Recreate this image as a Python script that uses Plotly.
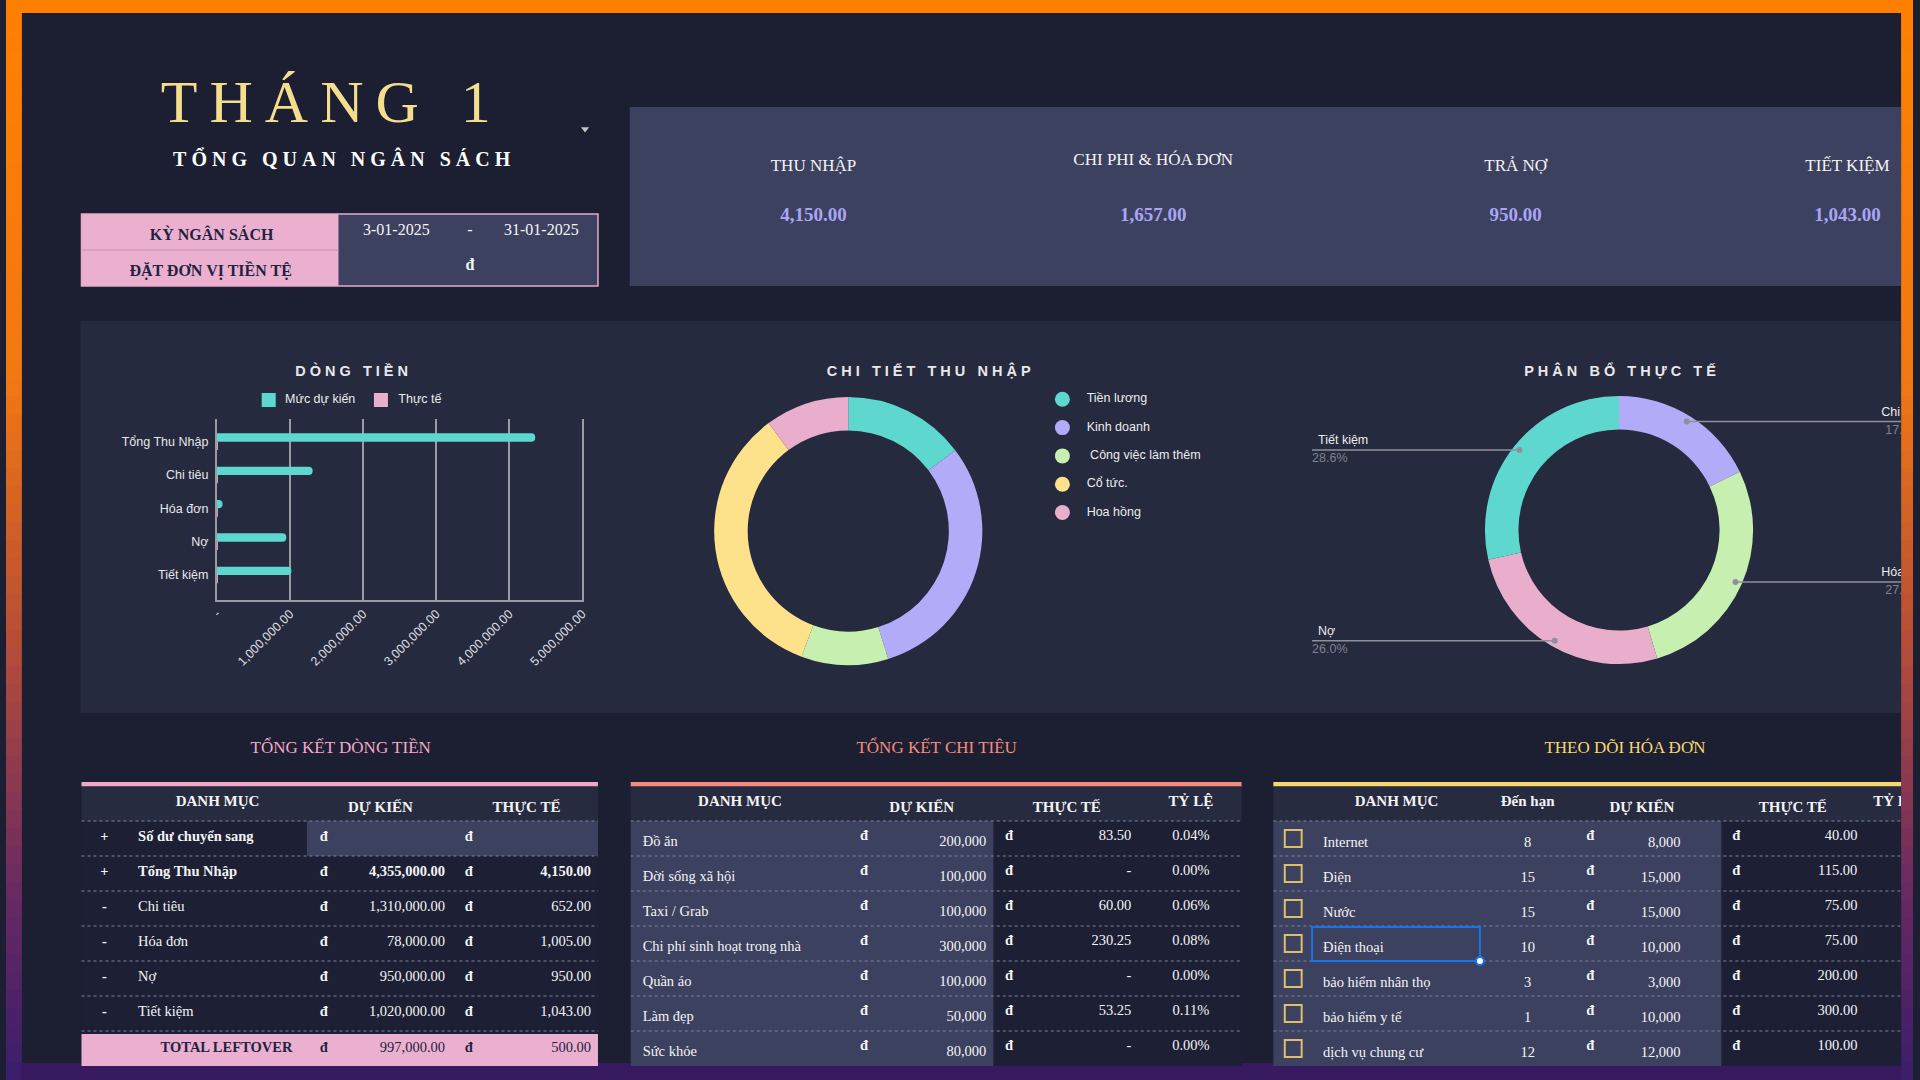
import math
import plotly.graph_objects as go

# ---------------- data ----------------
page_title = "THÁNG 1"
page_subtitle = "TỔNG QUAN NGÂN SÁCH"
period_label = "KỲ NGÂN SÁCH"
currency_label = "ĐẶT ĐƠN VỊ TIỀN TỆ"
period_start = "3-01-2025"
period_end = "31-01-2025"
currency_symbol = "đ"

kpi_labels = ["THU NHẬP", "CHI PHI & HÓA ĐƠN", "TRẢ NỢ", "TIẾT KIỆM"]

flow_categories = ["Tổng Thu Nhập", "Chi tiêu", "Hóa đơn", "Nợ", "Tiết kiệm"]
flow_signs = ["+", "-", "-", "-", "-"]
flow_planned = [4355000.00, 1310000.00, 78000.00, 950000.00, 1020000.00]
flow_actual = [4150.00, 652.00, 1005.00, 950.00, 1043.00]
carry_label = "Số dư chuyển sang"
total_label = "TOTAL LEFTOVER"
flow_series_names = ["Mức dự kiến", "Thực tế"]
flow_tick_values = [0, 1000000, 2000000, 3000000, 4000000, 5000000]
flow_tick_labels = ["-", "1,000,000.00", "2,000,000.00", "3,000,000.00", "4,000,000.00", "5,000,000.00"]

income_sources = ["Tiền lương", "Kinh doanh", " Công việc làm thêm", "Cổ tức.", "Hoa hồng"]
income_amounts = [610, 1265, 435, 1420, 420]

alloc_labels = ["Chi tiêu", "Hóa đơn", "Nợ", "Tiết kiệm"]
alloc_values = [652.00, 1005.00, 950.00, 1043.00]

expense_names = ["Đồ ăn", "Đời sống xã hội", "Taxi / Grab", "Chi phí sinh hoạt trong nhà",
                 "Quần áo", "Làm đẹp", "Sức khỏe"]
expense_planned = [200000, 100000, 100000, 300000, 100000, 50000, 80000]
expense_actual = [83.50, 0, 60.00, 230.25, 0, 53.25, 0]

bill_names = ["Internet", "Điện", "Nước", "Điện thoại", "bảo hiểm nhân thọ", "bảo hiểm y tế",
              "dịch vụ chung cư"]
bill_due = [8, 15, 15, 10, 3, 1, 12]
bill_planned = [8000, 15000, 15000, 10000, 3000, 10000, 12000]
bill_actual = [40.00, 115.00, 75.00, 75.00, 200.00, 300.00, 100.00]

chart_titles = ["DÒNG TIỀN", "CHI TIẾT THU NHẬP", "PHÂN BỔ THỰC TẾ"]
section_titles = ["TỔNG KẾT DÒNG TIỀN", "TỔNG KẾT CHI TIÊU", "THEO DÕI HÓA ĐƠN"]
t1_headers = ["DANH MỤC", "DỰ KIẾN", "THỰC TẾ"]
t2_headers = ["DANH MỤC", "DỰ KIẾN", "THỰC TẾ", "TỶ LỆ"]
t3_headers = ["DANH MỤC", "Đến hạn", "DỰ KIẾN", "THỰC TẾ", "TỶ LỆ"]

# ---------------- style ----------------
FW, FH = 1920, 1080
SERIF = "Liberation Serif, DejaVu Serif, serif"
SANS = "Liberation Sans, Arial, DejaVu Sans, sans-serif"
BG = "#1c1f32"
PANEL = "#252a3e"
LIGHT = "#3d4160"
HEAD = "#272b40"
ROWDARK = "#1d2034"
PINKBOX = "#ebb0cf"
NAVY = "#1f2340"
WHITE = "#f4f4f4"
TEAL = "#5ed8ce"
LAV = "#b2abf7"
GREEN = "#c6efb0"
YELLOW = "#fde28b"
PINK = "#eaaecd"
GRID = "#9a9ba4"
NB = "\u00a0"


def spaced(s, sep=NB, wsep=NB * 3):
    return wsep.join(sep.join(list(w)) for w in s.split(" "))


shapes = []


def prect(x0, y0, x1, y1, fill, line_color=None, lw=0, layer="below"):
    shapes.append(dict(type="rect", xref="paper", yref="paper",
                       x0=x0 / FW, x1=x1 / FW, y0=1 - y1 / FH, y1=1 - y0 / FH,
                       fillcolor=fill, line=dict(color=line_color or "rgba(0,0,0,0)", width=lw),
                       layer=layer))


def arect(x0, y0, x1, y1, fill="rgba(0,0,0,0)", line_color=None, lw=0, typ="rect"):
    shapes.append(dict(type=typ, xref="x2", yref="y2", x0=x0, x1=x1, y0=y0, y1=y1,
                       fillcolor=fill, line=dict(color=line_color or "rgba(0,0,0,0)", width=lw),
                       layer="above"))


def aline(x0, y0, x1, y1, color, width=1, dash="solid"):
    shapes.append(dict(type="line", xref="x2", yref="y2", x0=x0, y0=y0, x1=x1, y1=y1,
                       line=dict(color=color, width=width, dash=dash), layer="above"))


def hexrgb(h):
    h = h.lstrip("#")
    return [int(h[i:i + 2], 16) for i in (0, 2, 4)]


def grad(t, stops):
    for (t0, c0), (t1, c1) in zip(stops[:-1], stops[1:]):
        if t0 <= t <= t1:
            f = (t - t0) / (t1 - t0) if t1 > t0 else 0
            a, b = hexrgb(c0), hexrgb(c1)
            return "rgb(%d,%d,%d)" % tuple(round(a[i] + (b[i] - a[i]) * f) for i in range(3))
    return stops[-1][1]


fig = go.Figure()


def T(xs, ys, texts, size, color=WHITE, family=SERIF, pos="middle center", bold=False):
    if not isinstance(xs, (list, tuple)):
        xs, ys, texts = [xs], [ys], [texts]
    texts = [("<b>%s</b>" % t) if bold else t for t in texts]
    fig.add_trace(go.Scatter(x=list(xs), y=list(ys), text=texts, mode="text",
                             textposition=pos,
                             textfont=dict(family=family, size=size, color=color),
                             xaxis="x2", yaxis="y2", hoverinfo="skip", showlegend=False,
                             cliponaxis=True))


# ---------------- frame and panels ----------------
stops = [(0, "#ff8000"), (0.35, "#f27812"), (0.6, "#b44c38"), (0.82, "#6a2a62"), (1, "#3b1d6b")]
N = 60
for i in range(N):
    y0 = FH * i / N
    y1 = FH * (i + 1) / N + 1
    c = grad((i + 0.5) / N, stops)
    prect(0, y0, 16, y1, c)
    prect(1908, y0, FW, y1, c)
prect(0, 0, FW, 13, "#ff8000")
prect(16, 1063, 1908, FH, "#37195f")

prect(628, 107, 1908, 286, LIGHT)          # KPI panel
prect(75, 321, 1908, 713, PANEL)           # chart panel

# info box
prect(76, 214, 335, 286, PINKBOX)
prect(335, 214, 596, 286, LIGHT)
prect(76, 249.5, 335, 250.5, "#c48fae")
prect(76, 214, 596, 286, "rgba(0,0,0,0)", "#e7a9c9", 1.5)

# tables geometry
ROW0, RH, NROWS = 821, 35, 7
TABLES = [(76, 596, "#f2a7c6"), (629, 1244, "#f48b7c"), (1276, 1908, "#f6d770")]
for (x0, x1, col) in TABLES:
    prect(x0, 782, x1, 786.5, col)
    prect(x0, 786.5, x1, ROW0, HEAD)
    prect(x0, ROW0, x1, ROW0 + RH * NROWS, ROWDARK)
# table 1 carry-over value cells
prect(303, ROW0, 596, ROW0 + RH, LIGHT)
# table 1 total row
prect(76, ROW0 + RH * 6 + 3, 596, ROW0 + RH * 7, PINKBOX)
# table 2 / 3 light columns
prect(629, ROW0, 994, ROW0 + RH * NROWS, LIGHT)
prect(1276, ROW0, 1727, ROW0 + RH * NROWS, LIGHT)

for (x0, x1, col) in TABLES:
    for r in range(NROWS):
        aline(x0, ROW0 + RH * r, x1, ROW0 + RH * r, "#80839a", 1, "dot")

# ---------------- header block ----------------
T(322, 107, "\u2009".join(list("THÁNG")) + NB * 2 + "\u2009" + "1", 60, "#f4de8e")
T(338, 161, spaced(page_subtitle), 20, "#ffffff", bold=True)
fig.add_trace(go.Scatter(x=[583], y=[129], mode="markers", xaxis="x2", yaxis="y2",
                         marker=dict(symbol="triangle-down", size=7, color="#c4c4c8"),
                         hoverinfo="skip", showlegend=False))
T(207, 236, period_label, 16, NAVY, bold=True)
T(206, 272, currency_label, 16, NAVY, bold=True)
T(393, 231, period_start, 16, WHITE)
T(467, 231, "-", 16, WHITE)
T(539, 231, period_end, 16, WHITE)
T(467, 266, currency_symbol, 16, WHITE, bold=True)

# KPIs
kpi_values = [flow_actual[0], flow_actual[1] + flow_actual[2], flow_actual[3], flow_actual[4]]
kpi_x = [813, 1155, 1520, 1854]
kpi_label_y = [166.5, 160.5, 166.5, 166.5]
for lab, val, x, ly in zip(kpi_labels, kpi_values, kpi_x, kpi_label_y):
    T(x, ly, lab, 17, WHITE)
    T(x, 216, "{:,.2f}".format(val), 19, "#a9a5f4", bold=True)

# ---------------- bar chart ----------------
for name, vals, col in zip(flow_series_names, [flow_planned, flow_actual], [TEAL, PINK]):
    fig.add_trace(go.Bar(y=flow_categories, x=vals, orientation="h", name=name,
                         marker=dict(color=col, line=dict(width=0)),
                         xaxis="x", yaxis="y", showlegend=False, hoverinfo="x+y"))

T(348, 372, spaced(chart_titles[0], NB, NB * 3), 14.5, "#e8e8ea", SANS, bold=True)
fig.add_trace(go.Scatter(x=[264.5, 377.5], y=[400, 400], mode="markers", xaxis="x2", yaxis="y2",
                         marker=dict(symbol="square", size=14, color=[TEAL, PINK]),
                         hoverinfo="skip", showlegend=False))
T([281, 395], [400, 400], flow_series_names, 12.5, "#ececec", SANS, "middle right")

# ---------------- donut 1 ----------------
P1 = (848, 531, 135)
fig.add_trace(go.Pie(values=income_amounts, labels=income_sources, hole=0.75, sort=False,
                     direction="clockwise", rotation=0, textinfo="none",
                     marker=dict(colors=[TEAL, LAV, GREEN, YELLOW, PINK], line=dict(width=0)),
                     showlegend=False, hoverinfo="label+percent",
                     domain=dict(x=[(P1[0] - P1[2]) / FW, (P1[0] + P1[2]) / FW],
                                 y=[1 - (P1[1] + P1[2]) / FH, 1 - (P1[1] - P1[2]) / FH])))
T(929, 372, spaced(chart_titles[1], NB, NB * 3), 14.5, "#e8e8ea", SANS, bold=True)
leg_y = [399.3 + 28.3 * i for i in range(len(income_sources))]
fig.add_trace(go.Scatter(x=[1063.6] * len(income_sources), y=leg_y, mode="markers",
                         xaxis="x2", yaxis="y2",
                         marker=dict(symbol="circle", size=15,
                                     color=[TEAL, LAV, GREEN, YELLOW, PINK]),
                         hoverinfo="skip", showlegend=False))
T([1088] * len(income_sources), leg_y, [s.replace(" ", NB, 1) if s.startswith(" ") else s
                                        for s in income_sources],
  12.5, "#ececec", SANS, "middle right")

# ---------------- donut 2 ----------------
P2 = (1624, 530, 135)
fig.add_trace(go.Pie(values=alloc_values, labels=alloc_labels, hole=0.75, sort=False,
                     direction="clockwise", rotation=0, textinfo="none",
                     marker=dict(colors=[LAV, GREEN, PINK, TEAL], line=dict(width=0)),
                     showlegend=False, hoverinfo="label+percent",
                     domain=dict(x=[(P2[0] - P2[2]) / FW, (P2[0] + P2[2]) / FW],
                                 y=[1 - (P2[1] + P2[2]) / FH, 1 - (P2[1] - P2[2]) / FH])))
T(1625, 372, spaced(chart_titles[2], NB, NB * 3), 14.5, "#e8e8ea", SANS, bold=True)
tot = sum(alloc_values)
cum = 0.0
for lab, v in zip(alloc_labels, alloc_values):
    mid = (cum + v / 2) / tot * 2 * math.pi
    cum += v
    dx = P2[0] + P2[2] * 0.95 * math.sin(mid)
    dy = P2[1] - P2[2] * 0.95 * math.cos(mid)
    if math.sin(mid) >= 0:
        xe, xt, xp = 1930, 1888, 1892
    else:
        xe, xt, xp = 1315, 1321, 1315
    aline(dx, dy, xe, dy, "#8e909b", 1.5)
    arect(dx - 3, dy - 3, dx + 3, dy + 3, "#8e909b", "#8e909b", 0, "circle")
    T(xt, dy - 9, lab, 12.5, "#ececec", SANS, "middle right")
    T(xp, dy + 9, "{:.1%}".format(v / tot), 12.5, "#80828f", SANS, "middle right")

# ---------------- tables ----------------
def rc(i):
    return ROW0 + RH * i + RH / 2


T(337, 749, section_titles[0], 17, "#f4a9c8")
T(937, 749, section_titles[1], 17, "#f58c7c")
T(1630, 749, section_titles[2], 17, "#f6d770")

# table 1
T([213, 377, 524], [802, 808, 808], t1_headers, 15, WHITE, bold=True)
T(99, rc(0) - 1, "+", 14.5, WHITE, bold=True)
T(133, rc(0) - 1, carry_label, 14.5, WHITE, pos="middle right", bold=True)
T([320, 466], [rc(0) - 1] * 2, [currency_symbol] * 2, 14.5, WHITE, bold=True)
for i, (sg, nm, pv, av) in enumerate(zip(flow_signs, flow_categories, flow_planned, flow_actual)):
    y = rc(i + 1) - 1
    b = (i == 0)
    T(99, y, sg, 14.5, WHITE, bold=True)
    T(133, y, nm, 14.5, WHITE, pos="middle right", bold=b)
    T([320, 466], [y, y], [currency_symbol] * 2, 14.5, WHITE, bold=True)
    T(442, y, "{:,.2f}".format(pv), 14.5, WHITE, pos="middle left", bold=b)
    T(589, y, "{:,.2f}".format(av), 14.5, WHITE, pos="middle left", bold=b)
left_plan = flow_planned[0] - sum(flow_planned[1:])
left_act = flow_actual[0] - sum(flow_actual[1:])
y = rc(6)
T(222, y, total_label, 14.5, NAVY, bold=True)
T([320, 466], [y, y], [currency_symbol] * 2, 14.5, NAVY, bold=True)
T(442, y, "{:,.2f}".format(left_plan), 14.5, NAVY, pos="middle left")
T(589, y, "{:,.2f}".format(left_act), 14.5, NAVY, pos="middle left")

# table 2
T([739, 922, 1068, 1193], [802, 808, 808, 802], t2_headers, 15, WHITE, bold=True)
for i, (nm, pv, av) in enumerate(zip(expense_names, expense_planned, expense_actual)):
    c = rc(i)
    T(641, c + 4, nm, 14.5, WHITE, pos="middle right")
    T([864, 1010], [c - 2, c - 2], [currency_symbol] * 2, 14.5, WHITE, bold=True)
    T(987, c + 4, "{:,.0f}".format(pv), 14.5, WHITE, pos="middle left")
    T(1133, c - 2, "{:,.2f}".format(av) if av else "-", 14.5, WHITE, pos="middle left")
    T(1193, c - 2, "{:.2%}".format(av / pv), 14.5, WHITE)

# table 3
T([1400, 1532, 1647, 1799], [802, 802, 808, 808], t3_headers[:4], 15, WHITE, bold=True)
T(1880, 802, t3_headers[4], 15, WHITE, pos="middle right", bold=True)
for i, (nm, du, pv, av) in enumerate(zip(bill_names, bill_due, bill_planned, bill_actual)):
    c = rc(i)
    arect(1287.5, c - 8.5, 1304.5, c + 8.5, "rgba(0,0,0,0)", "#dcbf6c", 2)
    T(1326, c + 5, nm, 14.5, WHITE, pos="middle right")
    T(1532, c + 5, str(du), 14.5, WHITE)
    T([1595, 1742], [c - 2, c - 2], [currency_symbol] * 2, 14.5, WHITE, bold=True)
    T(1686, c + 5, "{:,.0f}".format(pv), 14.5, WHITE, pos="middle left")
    T(1864, c - 2, "{:,.2f}".format(av), 14.5, WHITE, pos="middle left")

# selected cell
sel = bill_names.index("Điện thoại")
arect(1315, ROW0 + RH * sel + 1, 1484, ROW0 + RH * (sel + 1), "rgba(0,0,0,0)", "#1a73e8", 2)
arect(1480, ROW0 + RH * (sel + 1) - 4, 1488, ROW0 + RH * (sel + 1) + 4, "#ffffff", "#1a73e8", 2,
      "circle")

# ---------------- layout ----------------
fig.update_layout(
    width=FW, height=FH, margin=dict(l=0, r=0, t=0, b=0),
    paper_bgcolor=BG, plot_bgcolor="rgba(0,0,0,0)",
    shapes=shapes, hovermode=False,
    barmode="group", bargap=0.5, bargroupgap=0, barcornerradius=4,
    xaxis=dict(domain=[212.3 / FW, 580.3 / FW], range=[0, 5000000], anchor="y",
               tickvals=flow_tick_values, ticktext=flow_tick_labels, tickangle=-45,
               showgrid=True, gridcolor=GRID, gridwidth=2, zeroline=False,
               showline=True, linecolor=GRID, linewidth=1.5, ticks="",
               tickfont=dict(family=SANS, size=12.5, color="#dedee2"), fixedrange=True),
    yaxis=dict(domain=[1 - 600 / FH, 1 - 419.3 / FH], anchor="x", type="category",
               categoryorder="array", categoryarray=flow_categories, range=[4.75, -0.67],
               showgrid=False, zeroline=False, showline=True, mirror=True,
               linecolor=GRID, linewidth=2, ticks="", ticklabelstandoff=4,
               tickfont=dict(family=SANS, size=12.5, color="#e6e6ea"), fixedrange=True),
    xaxis2=dict(domain=[16 / FW, 1908 / FW], range=[16, 1908], anchor="y2", visible=False,
                fixedrange=True),
    yaxis2=dict(domain=[1 - 1063 / FH, 1 - 13 / FH], range=[1063, 13], anchor="x2",
                visible=False, fixedrange=True),
)

fig.write_html("out.html", config={"displayModeBar": False, "staticPlot": False},
               post_script="document.body.style.margin='0';document.body.style.overflow='hidden';")
